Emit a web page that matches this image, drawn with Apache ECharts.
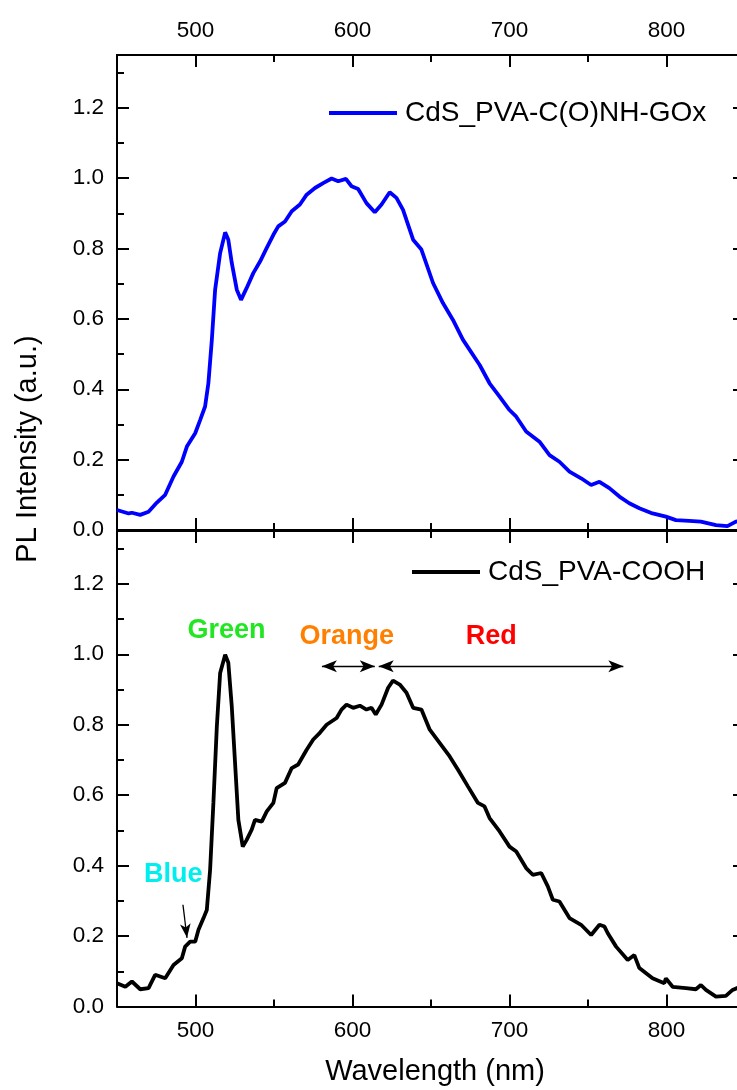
<!DOCTYPE html>
<html><head><meta charset="utf-8">
<script src="https://cdn.jsdelivr.net/npm/echarts@6/dist/echarts.min.js"></script>
<style>html,body{margin:0;padding:0;background:#fff;overflow:hidden}#c{width:737px;height:1090px}</style>
</head><body><div id="c"></div><script>
// ---- data ----
const wlGOx = [450,457.4,459.5,464.8,470.1,475.4,480.7,486.0,491.3,494.5,499.8,503.0,506.1,508.2,510.4,512.5,515.7,518.9,520.9,523.1,526.3,529.0,532.6,536.8,541.1,545.3,549.6,552.7,557.0,561.3,566.5,570.8,576.1,581.3,586.7,590.9,595.8,599.4,603.6,608.9,614.2,618.5,623.7,628.0,632.2,634.3,638.6,643.9,651.3,657.6,664.0,670.3,681.0,687.3,693.7,700.0,704.3,710.6,719.1,725.5,731.8,738.2,745.6,752.0,757.3,763.6,770.0,776.3,782.7,791.1,799.6,806.0,814.5,821.9,831.5,838.8,844.2,850];
const plGOx = [0.057,0.047,0.049,0.043,0.052,0.078,0.100,0.152,0.194,0.237,0.275,0.313,0.351,0.417,0.540,0.683,0.787,0.846,0.825,0.759,0.683,0.654,0.688,0.730,0.763,0.801,0.839,0.863,0.877,0.906,0.925,0.953,0.972,0.986,0.999,0.991,0.998,0.977,0.969,0.929,0.903,0.925,0.960,0.944,0.910,0.882,0.825,0.797,0.702,0.645,0.597,0.541,0.469,0.417,0.379,0.341,0.322,0.280,0.251,0.213,0.194,0.166,0.147,0.128,0.137,0.119,0.095,0.076,0.062,0.047,0.038,0.028,0.026,0.024,0.014,0.011,0.024,0.026];
const wlCOOH = [450,455.3,459.5,464.8,470.1,474.3,477.5,480.7,486.0,491.3,493.4,496.6,499.8,501.9,505.1,507.2,509.3,511.4,513.6,515.7,518.9,520.9,523.1,525.2,527.3,530.1,532.6,535.8,537.9,542.2,545.4,549.6,551.7,557.0,561.3,565.4,570.8,575.0,579.2,583.5,589.9,593.0,596.2,600.4,604.7,608.9,612.1,614.8,618.5,622.7,625.8,630.1,634.4,638.6,643.9,649.2,655.6,661.9,667.2,673.5,679.9,684.1,687.3,693.7,700.0,704.3,710.6,714.8,720.2,724.4,727.6,731.8,738.2,745.6,752.0,757.3,760.5,762.6,767.9,775.3,779.5,782.7,791.1,798.6,799.6,803.9,812.4,818.7,821.9,825.1,831.5,837.8,842.1,850];
const plCOOH = [0.066,0.056,0.071,0.049,0.052,0.090,0.085,0.080,0.118,0.137,0.170,0.184,0.184,0.218,0.251,0.274,0.388,0.578,0.796,0.947,0.999,0.976,0.852,0.691,0.530,0.454,0.473,0.502,0.530,0.525,0.554,0.578,0.620,0.635,0.677,0.687,0.729,0.758,0.777,0.800,0.819,0.843,0.857,0.848,0.854,0.843,0.848,0.829,0.857,0.905,0.925,0.914,0.891,0.848,0.843,0.786,0.748,0.710,0.672,0.625,0.578,0.568,0.535,0.497,0.454,0.440,0.393,0.374,0.379,0.341,0.303,0.298,0.251,0.232,0.203,0.232,0.227,0.208,0.170,0.132,0.146,0.109,0.080,0.066,0.080,0.056,0.052,0.049,0.061,0.047,0.028,0.030,0.047,0.062];
const seriesNames = ['CdS_PVA-C(O)NH-GOx', 'CdS_PVA-COOH'];
const xTicks = [500, 600, 700, 800];
const yTicks = [0, 0.2, 0.4, 0.6, 0.8, 1.0, 1.2];
const regionLabels = ['Blue', 'Green', 'Orange', 'Red'];
const regionLabelAt = [[485.8, 0.374], [519.8, 1.068], [596.4, 1.051], [688.3, 1.051]];
const regionArrows = [[[580.5, 0.966], [614.2, 0.966]], [[616.7, 0.966], [772.5, 0.966]]];
const blueArrow = [[492.0, 0.289], [494.6, 0.195]];

// ---- styling ----
const FONT = '"Liberation Sans", Arial, Helvetica, sans-serif';
const regionColors = ['#00eeee', '#22e622', '#ff8000', '#ff0000'];
const X_MIN = 450, X_MAX = 850, Y_MIN = 0, Y_MAX = 1.35;

function xAx(grid, pos, showLabels) {
  return {
    type: 'value', gridIndex: grid, position: pos, min: X_MIN, max: X_MAX, splitNumber: 4,
    axisLine: { show: true, onZero: false, lineStyle: { color: '#000', width: 2 } },
    axisTick: { show: true, inside: true, length: 12, customValues: xTicks, lineStyle: { color: '#000', width: 2 } },
    minorTick: { show: true, splitNumber: 2, length: 7, lineStyle: { color: '#000', width: 2 } },
    axisLabel: { show: showLabels, customValues: xTicks, margin: 13, fontSize: 22.5, color: '#000', fontFamily: FONT },
    splitLine: { show: false }, minorSplitLine: { show: false }
  };
}
function yAx(grid, pos, showLabels) {
  return {
    type: 'value', gridIndex: grid, position: pos, min: Y_MIN, max: Y_MAX, interval: 0.2,
    axisLine: { show: true, onZero: false, lineStyle: { color: '#000', width: 2 } },
    axisTick: { show: true, inside: true, length: 12, customValues: yTicks, lineStyle: { color: '#000', width: 2 } },
    minorTick: { show: true, splitNumber: 2, length: 7, lineStyle: { color: '#000', width: 2 } },
    axisLabel: { show: showLabels, customValues: yTicks, margin: 13, fontSize: 22.5, color: '#000', fontFamily: FONT,
      formatter: v => Number(v).toFixed(1) },
    splitLine: { show: false }, minorSplitLine: { show: false }
  };
}
function legendFor(name, left, top) {
  return {
    data: [name], left: left, top: top, icon: 'rect', itemWidth: 68, itemHeight: 4, padding: 0,
    selectedMode: false,
    textStyle: { fontSize: 28, color: '#000', fontFamily: FONT, padding: [0, 0, 0, 3] }
  };
}

const chart = echarts.init(document.getElementById('c'), null, { renderer: 'canvas' });
chart.setOption({
  animation: false,
  backgroundColor: '#fff',
  grid: [
    { left: 117, top: 55, width: 628, height: 475, containLabel: false, outerBoundsMode: 'none' },
    { left: 117, top: 531, width: 628, height: 475.5, containLabel: false, outerBoundsMode: 'none' }
  ],
  xAxis: [xAx(0, 'bottom', false), xAx(0, 'top', true), xAx(1, 'bottom', true), xAx(1, 'top', false)],
  yAxis: [yAx(0, 'left', true), yAx(0, 'right', false), yAx(1, 'left', true), yAx(1, 'right', false)],
  legend: [legendFor(seriesNames[0], 329, 99), legendFor(seriesNames[1], 412, 558)],
  series: [
    {
      name: seriesNames[0], type: 'line', xAxisIndex: 0, yAxisIndex: 0, showSymbol: false, symbol: 'none',
      data: wlGOx.map((x, i) => [x, plGOx[i]]),
      lineStyle: { color: '#0000ff', width: 3.8 }, itemStyle: { color: '#0000ff' }
    },
    {
      name: seriesNames[1], type: 'line', xAxisIndex: 2, yAxisIndex: 2, showSymbol: false, symbol: 'none',
      data: wlCOOH.map((x, i) => [x, plCOOH[i]]),
      lineStyle: { color: '#000000', width: 3.8 }, itemStyle: { color: '#000000' },
      markPoint: {
        silent: true, symbol: 'circle', symbolSize: 0,
        data: regionLabels.map((t, i) => ({
          name: t, coord: regionLabelAt[i],
          label: { color: regionColors[i] }
        })),
        label: { show: true, position: 'inside', formatter: p => p.name, fontSize: 27, fontWeight: 'bold', fontFamily: FONT }
      },
      markLine: {
        silent: true, symbol: ['arrow', 'arrow'], symbolSize: [9, 15],
        lineStyle: { color: '#000', width: 1.3, type: 'solid' },
        label: { show: false },
        data: regionArrows.map(a => [{ coord: a[0] }, { coord: a[1] }]).concat([
          [{ coord: blueArrow[0], symbol: 'none' }, { coord: blueArrow[1], symbol: 'arrow', symbolSize: [8, 14] }]
        ])
      }
    }
  ],
  graphic: [
    { type: 'text', x: 28, y: 449, rotation: Math.PI / 2,
      style: { text: 'PL Intensity (a.u.)', fill: '#000', fontSize: 29, fontFamily: FONT, align: 'center', verticalAlign: 'middle' } },
    { type: 'text', x: 435, y: 1072,
      style: { text: 'Wavelength (nm)', fill: '#000', fontSize: 29, fontFamily: FONT, align: 'center', verticalAlign: 'middle' } }
  ]
});
</script></body></html>
